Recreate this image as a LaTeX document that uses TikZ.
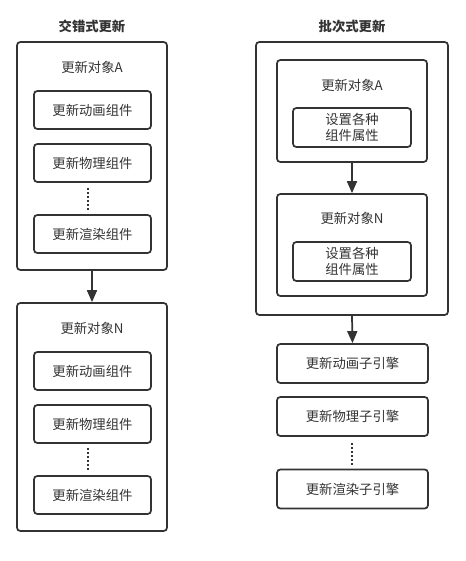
\documentclass[tikz,border=0pt]{standalone}
\usepackage{fontspec}
\setmainfont{Noto Sans CJK SC}
\usepackage{xcolor}
\usepackage{tikz}
\usetikzlibrary{arrows.meta}
\definecolor{ink}{HTML}{333333}

\begin{document}
\begin{tikzpicture}[x=0.75pt, y=-0.75pt,
    every node/.style={font=\fontsize{10pt}{12pt}\selectfont, text=ink},
    box/.style={draw=ink, line width=1.3pt, rounded corners=2.5pt, inner sep=0pt},
    outerbox/.style={box, minimum width=112.5pt, minimum height=171pt},
    bigbox/.style={box, minimum width=144pt, minimum height=204.75pt},
    objbox/.style={box, minimum width=112.5pt, minimum height=76.5pt},
    compbox/.style={box, minimum width=87.75pt, minimum height=28.5pt},
    attrbox/.style={box, minimum width=88.5pt, minimum height=29.25pt, align=center, font=\fontsize{10pt}{12pt}\selectfont},
    enginebox/.style={box, minimum width=113.25pt, minimum height=29.25pt},
    title/.style={font=\bfseries\fontsize{10pt}{12pt}\selectfont},
    flow/.style={draw=ink, line width=1.3pt, -{Triangle[length=9pt, width=7.5pt]}},
    dots/.style={draw=ink, line width=1.2pt, dash pattern=on 1.5pt off 1.5pt}]
    \useasboundingbox (0,0) rectangle (465,561);

    % interleaved update
    \node (titleL) at (92,26) [title] {交错式更新};
    \node (objA) at (92,156) [outerbox] {};
    \node (labelA) at (92,67) {更新对象A};
    \node (animA) at (92.5,110) [compbox] {更新动画组件};
    \node (physA) at (92.5,163) [compbox] {更新物理组件};
    \node (rendA) at (92.5,234) [compbox] {更新渲染组件};
    \coordinate (dotsA1) at (88,188);
    \coordinate (dotsA2) at (88,210);
    \draw[dots] (dotsA1) -- (dotsA2);

    \node (objN) at (92,417) [outerbox] {};
    \node (labelN) at (92,328) {更新对象N};
    \node (animN) at (92.5,371) [compbox] {更新动画组件};
    \node (physN) at (92.5,424) [compbox] {更新物理组件};
    \node (rendN) at (92.5,495) [compbox] {更新渲染组件};
    \coordinate (dotsN1) at (88,448);
    \coordinate (dotsN2) at (88,471);
    \draw[dots] (dotsN1) -- (dotsN2);

    \draw[flow] (objA.south) -- (objN.north);

    % batched update
    \node (titleR) at (352,26) [title] {批次式更新};
    \node (batch) at (352,178.5) [bigbox] {};
    \node (bobjA) at (352,111) [objbox] {};
    \node (blabelA) at (352,85) {更新对象A};
    \node (attrA) at (352,127.5) [attrbox] {设置各种\\组件属性};
    \node (bobjN) at (352,245) [objbox] {};
    \node (blabelN) at (352,218) {更新对象N};
    \node (attrN) at (352,261.5) [attrbox] {设置各种\\组件属性};
    \draw[flow] (bobjA.south) -- (bobjN.north);

    \node (anim) at (352.5,363.5) [enginebox] {更新动画子引擎};
    \node (phys) at (352.5,416.5) [enginebox] {更新物理子引擎};
    \node (rend) at (352.5,489) [enginebox] {更新渲染子引擎};
    \coordinate (dots1) at (352,443);
    \coordinate (dots2) at (352,465);
    \draw[dots] (dots1) -- (dots2);

    \draw[flow] (batch.south) -- (anim.north);
\end{tikzpicture}
\end{document}
